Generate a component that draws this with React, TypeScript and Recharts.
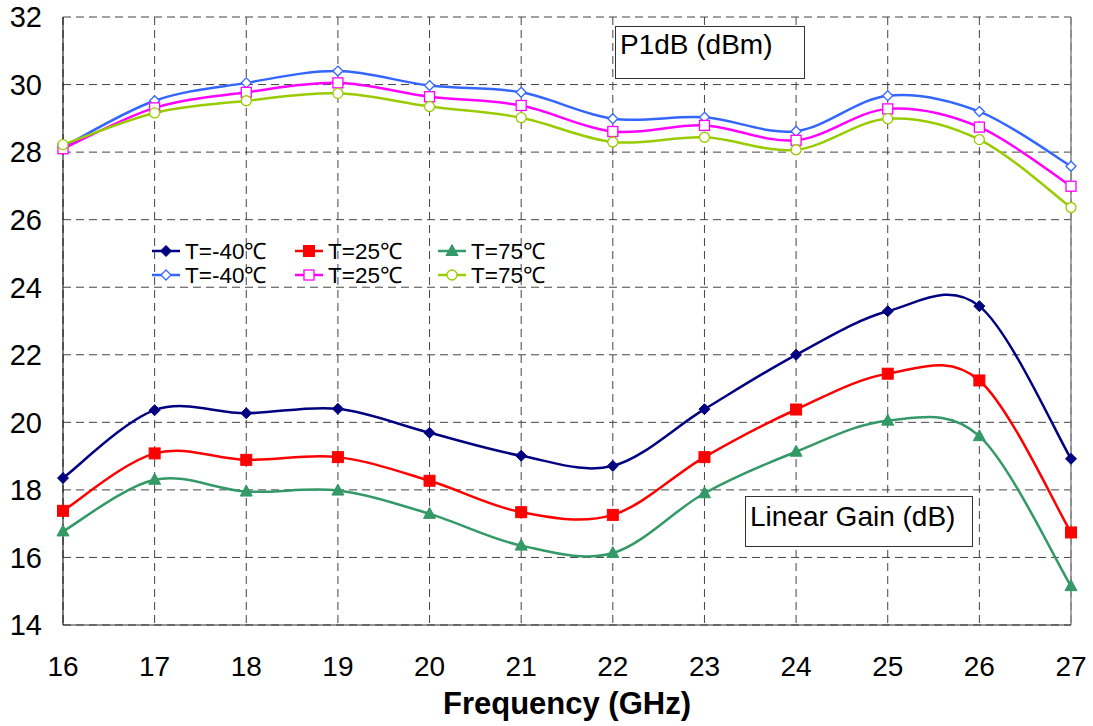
import { CartesianGrid, Line, LineChart, ReferenceLine, XAxis, YAxis } from 'recharts';

const freqs = [16, 17, 18, 19, 20, 21, 22, 23, 24, 25, 26, 27];

// Linear gain (dB)
const gainM40 = [18.35, 20.36, 20.27, 20.4, 19.69, 19.01, 18.71, 20.39, 22.0, 23.29, 23.44, 18.92];
const gain25 = [17.38, 19.08, 18.89, 18.97, 18.27, 17.34, 17.26, 18.97, 20.38, 21.44, 21.24, 16.74];
const gain75 = [16.77, 18.3, 17.95, 17.98, 17.29, 16.35, 16.13, 17.9, 19.13, 20.05, 19.59, 15.15];

// P1dB (dBm)
const p1dbM40 = [28.15, 29.52, 30.05, 30.4, 29.97, 29.77, 28.99, 29.03, 28.62, 29.67, 29.2, 27.58];
const p1db25 = [28.1, 29.31, 29.77, 30.05, 29.64, 29.38, 28.61, 28.79, 28.35, 29.28, 28.74, 26.99];
const p1db75 = [28.22, 29.16, 29.52, 29.74, 29.35, 29.02, 28.3, 28.44, 28.07, 28.99, 28.37, 26.36];

const yTicks = [14, 16, 18, 20, 22, 24, 26, 28, 30, 32];

const data = freqs.map((f, i) => ({
  f,
  gainM40: gainM40[i],
  gain25: gain25[i],
  gain75: gain75[i],
  p1dbM40: p1dbM40[i],
  p1db25: p1db25[i],
  p1db75: p1db75[i],
}));

type Shape = 'diamond' | 'square' | 'triangle' | 'circle';

interface SeriesDef {
  key: string;
  name: string;
  color: string;
  shape: Shape;
  filled: boolean;
}

const series: SeriesDef[] = [
  { key: 'gainM40', name: 'T=-40℃', color: '#000080', shape: 'diamond', filled: true },
  { key: 'gain25', name: 'T=25℃', color: '#FF0000', shape: 'square', filled: true },
  { key: 'gain75', name: 'T=75℃', color: '#339966', shape: 'triangle', filled: true },
  { key: 'p1dbM40', name: 'T=-40℃', color: '#3366FF', shape: 'diamond', filled: false },
  { key: 'p1db25', name: 'T=25℃', color: '#FF00FF', shape: 'square', filled: false },
  { key: 'p1db75', name: 'T=75℃', color: '#99CC00', shape: 'circle', filled: false },
];

const FONT = '"Liberation Sans", Arial, sans-serif';

// catmull-rom style smoothing, like spreadsheet "smoothed line"
function smoothCurve(context: any) {
  let pts: number[][] = [];
  return {
    areaStart() {},
    areaEnd() {},
    lineStart() {
      pts = [];
    },
    point(x: number, y: number) {
      pts.push([+x, +y]);
    },
    lineEnd() {
      if (!pts.length) return;
      context.moveTo(pts[0][0], pts[0][1]);
      for (let i = 0; i < pts.length - 1; i++) {
        const p0 = pts[i - 1] || pts[i];
        const p1 = pts[i];
        const p2 = pts[i + 1];
        const p3 = pts[i + 2] || p2;
        context.bezierCurveTo(
          p1[0] + (p2[0] - p0[0]) / 6,
          p1[1] + (p2[1] - p0[1]) / 6,
          p2[0] - (p3[0] - p1[0]) / 6,
          p2[1] - (p3[1] - p1[1]) / 6,
          p2[0],
          p2[1],
        );
      }
    },
  };
}

function Marker({ cx, cy, shape, color, filled }: { cx: number; cy: number; shape: Shape; color: string; filled: boolean }) {
  const fill = filled ? color : '#fff';
  const sw = filled ? 1 : 1.3;
  if (shape === 'diamond') {
    const r = filled ? 5.5 : 5;
    return <polygon points={`${cx},${cy - r} ${cx + r},${cy} ${cx},${cy + r} ${cx - r},${cy}`} fill={fill} stroke={color} strokeWidth={sw} />;
  }
  if (shape === 'square') {
    const h = filled ? 5.5 : 5;
    return <rect x={cx - h} y={cy - h} width={h * 2} height={h * 2} fill={fill} stroke={color} strokeWidth={sw} />;
  }
  if (shape === 'triangle') {
    return <polygon points={`${cx},${cy - 6.5} ${cx + 6},${cy + 4.5} ${cx - 6},${cy + 4.5}`} fill={fill} stroke={color} strokeWidth={sw} />;
  }
  return <circle cx={cx} cy={cy} r={5} fill={fill} stroke={color} strokeWidth={sw} />;
}

function LegendBox() {
  const cols = [0, 143, 286];
  const rows = [0, 24];
  return (
    <svg style={{ position: 'absolute', left: 145, top: 238 }} width={420} height={54}>
      {series.map((s, i) => {
        const x = cols[i % 3];
        const y = rows[Math.floor(i / 3)] + 13;
        return (
          <g key={s.key}>
            <line x1={x + 7} x2={x + 35} y1={y} y2={y} stroke={s.color} strokeWidth={2.5} />
            <Marker cx={x + 21} cy={y} shape={s.shape} color={s.color} filled={s.filled} />
            <text x={x + 40} y={y + 8} fontSize={22.5} fontFamily={FONT} fill="#000">
              {s.name}
            </text>
          </g>
        );
      })}
    </svg>
  );
}

export default function App() {
  return (
    <div style={{ position: 'absolute', left: 0, top: 0, width: 1093, height: 726, background: '#fff' }}>
      <LineChart width={1093} height={726} data={data} margin={{ top: 17, right: 22, bottom: 41, left: 8 }}>
        <CartesianGrid stroke="#444" strokeDasharray="8 5" />
        <XAxis
          dataKey="f"
          type="number"
          domain={[16, 27]}
          ticks={freqs}
          height={60}
          tickSize={0}
          tickMargin={31}
          stroke="#333"
          tick={{ fontSize: 28, fontFamily: FONT, fill: '#000' }}
          label={{
            value: 'Frequency (GHz)',
            position: 'bottom',
            offset: 7,
            style: { fontSize: 31, fontWeight: 'bold', fontFamily: FONT, fill: '#000' },
          }}
        />
        <YAxis
          domain={[14, 32]}
          ticks={yTicks}
          width={55}
          tickSize={0}
          tickMargin={21}
          stroke="#000"
          tick={{ fontSize: 29, fontFamily: FONT, fill: '#000' }}
        />
        <ReferenceLine x={27} stroke="#888" strokeWidth={1.5} />
        {series.map((s) => (
          <Line
            key={s.key}
            dataKey={s.key}
            name={s.name}
            type={smoothCurve as any}
            stroke={s.color}
            strokeWidth={2.5}
            isAnimationActive={false}
            activeDot={false}
            dot={(p: any) => <Marker key={`${s.key}-${p.index}`} cx={p.cx} cy={p.cy} shape={s.shape} color={s.color} filled={s.filled} />}
          />
        ))}
      </LineChart>
      <div
        style={{
          position: 'absolute',
          left: 615,
          top: 26,
          width: 190,
          height: 53,
          border: '1.5px solid #333',
          background: '#fff',
          fontFamily: FONT,
          fontSize: 28,
          lineHeight: '36px',
          paddingLeft: 4,
          boxSizing: 'border-box',
        }}
      >
        P1dB (dBm)
      </div>
      <div
        style={{
          position: 'absolute',
          left: 745,
          top: 496,
          width: 228,
          height: 51,
          border: '1.5px solid #333',
          background: '#fff',
          fontFamily: FONT,
          fontSize: 28,
          lineHeight: '40px',
          paddingLeft: 4,
          boxSizing: 'border-box',
        }}
      >
        Linear Gain (dB)
      </div>
      <LegendBox />
    </div>
  );
}
